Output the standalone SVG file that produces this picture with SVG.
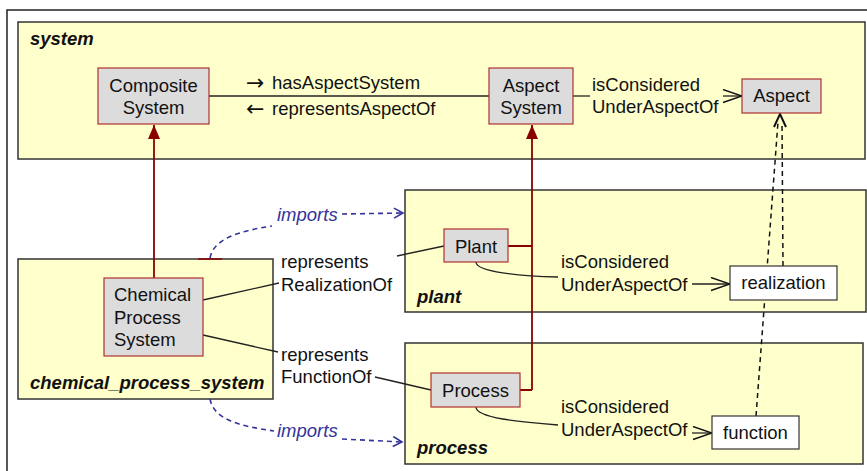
<svg xmlns="http://www.w3.org/2000/svg" width="867" height="471" viewBox="0 0 867 471">
<defs>
<style>
text{font-family:"Liberation Sans",Arial,sans-serif;font-size:18.5px;fill:#111}
.arw{font-family:"DejaVu Sans",sans-serif;font-size:22px}
.pkg{fill:#ffffcc;stroke:#333;stroke-width:1.5}
.pl{font-weight:bold;font-style:italic}
.cls{fill:#dcdcdc;stroke:#b03030;stroke-width:1.2}
.inst{fill:#fff;stroke:#333;stroke-width:1.2}
.c{text-anchor:middle}
.ln{fill:none;stroke:#222;stroke-width:1.3}
.red{fill:none;stroke:#8b0000;stroke-width:1.8}
.blue{fill:none;stroke:#333399;stroke-width:1.6;stroke-dasharray:5,4}
.imp{fill:#333399;font-style:italic}
.dash{fill:none;stroke:#111;stroke-width:1.5;stroke-dasharray:5,4}
</style>
<marker id="open" markerUnits="userSpaceOnUse" markerWidth="22" markerHeight="16" refX="20" refY="7" orient="auto"><path d="M1,0.5 L20,7 L1,13.5" fill="none" stroke="#111" stroke-width="1.4"/></marker>
<marker id="tri" markerUnits="userSpaceOnUse" markerWidth="16" markerHeight="14" refX="14" refY="6" orient="auto"><path d="M0,0 L14,6 L0,12 Z" fill="#8b0000"/></marker>
<marker id="bopen" markerUnits="userSpaceOnUse" markerWidth="12" markerHeight="14" refX="10" refY="6" orient="auto"><path d="M1,1 L10,6 L1,11" fill="none" stroke="#333399" stroke-width="1.6"/></marker>
<marker id="dopen" markerUnits="userSpaceOnUse" markerWidth="16" markerHeight="16" refX="14" refY="7" orient="auto"><path d="M1,1 L14,7 L1,13" fill="none" stroke="#111" stroke-width="2"/></marker>
</defs>
<rect width="867" height="471" fill="#fff"/>
<path d="M7,471 L7,10 L867,10" fill="none" stroke="#222" stroke-width="1.5"/>

<g id="pkg-system"><rect class="pkg" x="18" y="22" width="847" height="137"/><text class="pl" x="30" y="45">system</text></g>
<g id="pkg-chemical_process_system"><rect class="pkg" x="18" y="259" width="255" height="140"/><text class="pl" x="30" y="389">chemical_process_system</text></g>
<g id="pkg-plant"><rect class="pkg" x="405" y="190" width="461" height="122"/><text class="pl" x="417" y="303">plant</text></g>
<g id="pkg-process"><rect class="pkg" x="405" y="343" width="458" height="121"/><text class="pl" x="417" y="454">process</text></g>

<g id="connectors">
<line class="ln" x1="209" y1="96" x2="489" y2="96"/>
<text x="246" y="90"><tspan class="arw">→</tspan><tspan x="272" y="89">hasAspectSystem</tspan></text>
<text x="246" y="116"><tspan class="arw">←</tspan><tspan x="272" y="115">representsAspectOf</tspan></text>
<line class="ln" x1="573" y1="96" x2="590" y2="96"/>
<text x="592" y="91">isConsidered</text>
<text x="592" y="113">UnderAspectOf</text>
<line class="ln" x1="723" y1="96" x2="742" y2="96" marker-end="url(#open)"/>

<line class="red" x1="154" y1="278" x2="154" y2="125" marker-end="url(#tri)"/>
<line x1="198" y1="259" x2="222" y2="259" stroke="#8b0000" stroke-width="1.5"/>
<path class="red" d="M508,246 H532 M520,390 H532 M532,390 V139"/>
<line class="red" x1="532" y1="140" x2="532" y2="125" marker-end="url(#tri)"/>

<path class="blue" d="M210,258 C214,238 240,231 272,226"/>
<line class="blue" x1="342" y1="214" x2="403" y2="213" marker-end="url(#bopen)"/>
<text class="imp" x="277" y="221">imports</text>
<path class="blue" d="M210,399 C214,420 240,426 274,431"/>
<line class="blue" x1="342" y1="439" x2="402" y2="442" marker-end="url(#bopen)"/>
<text class="imp" x="277" y="437">imports</text>

<line class="ln" x1="203" y1="300" x2="279" y2="283"/>
<text x="281" y="268">represents</text>
<text x="281" y="291">RealizationOf</text>
<line class="ln" x1="397" y1="256" x2="444" y2="246"/>
<line class="ln" x1="203" y1="335" x2="278" y2="352"/>
<text x="281" y="361">represents</text>
<text x="281" y="383">FunctionOf</text>
<line class="ln" x1="375" y1="377" x2="431" y2="390"/>

<path class="ln" d="M476,262 C476,272 520,276 558,277"/>
<text x="561" y="268">isConsidered</text>
<text x="561" y="291">UnderAspectOf</text>
<line class="ln" x1="692" y1="284" x2="730" y2="284" marker-end="url(#open)"/>
<path class="ln" d="M476,407 C476,418 520,422 558,425"/>
<text x="561" y="413">isConsidered</text>
<text x="561" y="436">UnderAspectOf</text>
<line class="ln" x1="692" y1="433" x2="712" y2="433" marker-end="url(#open)"/>

<line class="dash" x1="756" y1="416" x2="778" y2="122"/>
<line class="dash" x1="783" y1="266" x2="782" y2="122"/>
<line x1="780" y1="124" x2="780" y2="114" stroke="none" marker-end="url(#dopen)"/>
</g>

<g id="CompositeSystem"><rect class="cls" x="98" y="68" width="111" height="56"/><text class="c" x="153.5" y="92">Composite</text><text class="c" x="153.5" y="114">System</text></g>
<g id="AspectSystem"><rect class="cls" x="489" y="68" width="84" height="56"/><text class="c" x="531" y="92">Aspect</text><text class="c" x="531" y="114">System</text></g>
<g id="Aspect"><rect class="cls" x="742" y="79" width="79" height="34"/><text class="c" x="781.5" y="102">Aspect</text></g>
<g id="ChemicalProcessSystem"><rect class="cls" x="104" y="278" width="99" height="78"/><text x="114" y="301">Chemical</text><text x="114" y="324">Process</text><text x="114" y="346">System</text></g>
<g id="Plant"><rect class="cls" x="444" y="229" width="64" height="33"/><text class="c" x="476" y="253">Plant</text></g>
<g id="Process"><rect class="cls" x="431" y="373" width="89" height="34"/><text class="c" x="475.5" y="397">Process</text></g>
<g id="realization"><rect class="inst" x="730" y="266" width="107" height="34"/><text class="c" x="783.5" y="289">realization</text></g>
<g id="function"><rect class="inst" x="712" y="416" width="87" height="33"/><text class="c" x="755.5" y="439">function</text></g>
</svg>
